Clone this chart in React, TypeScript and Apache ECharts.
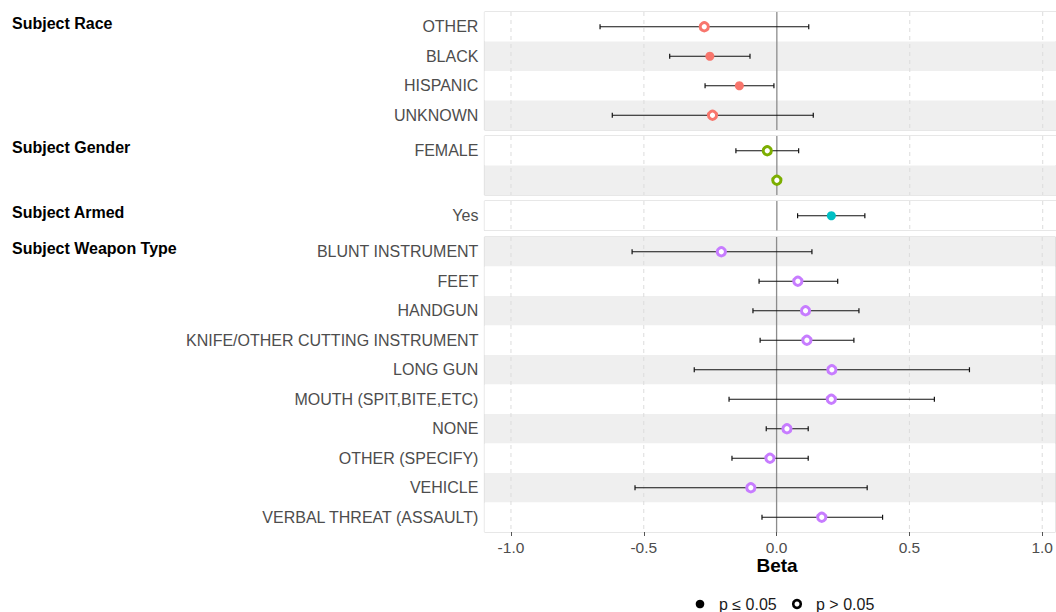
import React, { useEffect, useRef } from "react";
import * as echarts from "echarts";

const FONT = '"Liberation Sans", Arial, Helvetica, sans-serif';

// ---- data ----
const raceLabels = ["OTHER", "BLACK", "HISPANIC", "UNKNOWN"];
const raceBeta = [-0.273, -0.252, -0.141, -0.242];
const raceLow = [-0.665, -0.403, -0.27, -0.619];
const raceHigh = [0.12, -0.101, -0.011, 0.137];
const raceSig = [false, true, true, false];

const genderLabels = ["FEMALE", ""];
const genderBeta = [-0.036, 0.0];
const genderLow: (number | null)[] = [-0.154, null];
const genderHigh: (number | null)[] = [0.082, null];
const genderSig = [false, false];

const armedLabels = ["Yes"];
const armedBeta = [0.205];
const armedLow = [0.078];
const armedHigh = [0.331];
const armedSig = [true];

const weaponLabels = [
  "BLUNT INSTRUMENT",
  "FEET",
  "HANDGUN",
  "KNIFE/OTHER CUTTING INSTRUMENT",
  "LONG GUN",
  "MOUTH (SPIT,BITE,ETC)",
  "NONE",
  "OTHER (SPECIFY)",
  "VEHICLE",
  "VERBAL THREAT (ASSAULT)",
];
const weaponBeta = [-0.208, 0.08, 0.109, 0.114, 0.208, 0.206, 0.039, -0.025, -0.097, 0.17];
const weaponLow = [-0.544, -0.066, -0.089, -0.062, -0.31, -0.179, -0.039, -0.168, -0.533, -0.055];
const weaponHigh = [0.133, 0.23, 0.31, 0.291, 0.726, 0.594, 0.119, 0.119, 0.341, 0.399];
const weaponSig = [false, false, false, false, false, false, false, false, false, false];

const xTicks = [-1, -0.5, 0, 0.5, 1];
const xMin = -1.1;
const xMax = 1.05;

const panels = [
  { title: "Subject Race", labels: raceLabels, beta: raceBeta, low: raceLow, high: raceHigh, sig: raceSig, color: "#F8766D", top: 12, height: 118, grayFirst: false },
  { title: "Subject Gender", labels: genderLabels, beta: genderBeta, low: genderLow, high: genderHigh, sig: genderSig, color: "#7CAE00", top: 136, height: 59, grayFirst: false },
  { title: "Subject Armed", labels: armedLabels, beta: armedBeta, low: armedLow, high: armedHigh, sig: armedSig, color: "#00BFC4", top: 201, height: 29.5, grayFirst: false },
  { title: "Subject Weapon Type", labels: weaponLabels, beta: weaponBeta, low: weaponLow, high: weaponHigh, sig: weaponSig, color: "#C77CFF", top: 237, height: 295, grayFirst: true },
];

const GRAY = "#EFEFEF";
const WHITE = "#FFFFFF";

export default function App() {
  const ref = useRef<HTMLDivElement>(null);
  useEffect(() => {
    if (!ref.current) return;
    const chart = echarts.init(ref.current, null, { renderer: "svg" });
    const grid: any[] = [];
    const xAxis: any[] = [];
    const yAxis: any[] = [];
    const series: any[] = [];
    const graphic: any[] = [];
    const last = panels.length - 1;

    panels.forEach((p, i) => {
      grid.push({
        left: 484.4,
        width: 571.9,
        top: p.top,
        height: p.height,
        show: true,
        borderColor: "#cfcfcf",
        borderWidth: 1,
        backgroundColor: "transparent",
      });
      xAxis.push({
        gridIndex: i,
        type: "value",
        min: xMin,
        max: xMax,
        axisLine: { show: false },
        splitLine: { show: false },
        axisTick: {
          show: i === last,
          customValues: xTicks,
          length: 4,
          lineStyle: { color: "#555", width: 1 },
        },
        axisLabel: {
          show: i === last,
          customValues: xTicks,
          formatter: (v: number) => v.toFixed(1),
          fontSize: 15.5,
          color: "#4d4d4d",
          fontFamily: FONT,
          margin: 7,
        },
      });
      yAxis.push({
        gridIndex: i,
        type: "category",
        data: p.labels,
        inverse: true,
        axisLine: { show: false },
        axisTick: { show: false },
        splitLine: { show: false },
        axisLabel: { fontSize: 16, color: "#4d4d4d", fontFamily: FONT, margin: 6 },
        splitArea: {
          show: true,
          areaStyle: { color: p.grayFirst ? [GRAY, WHITE] : [WHITE, GRAY] },
        },
      });
      // grid lines
      series.push({
        type: "custom",
        xAxisIndex: i,
        yAxisIndex: i,
        z: 1,
        silent: true,
        encode: { x: 0 },
        data: xTicks.map((v) => [v]),
        renderItem: (params: any, api: any) => {
          const v = api.value(0);
          const x = api.coord([v, 0])[0];
          const cs = params.coordSys;
          return {
            type: "line",
            shape: { x1: x, y1: cs.y, x2: x, y2: cs.y + cs.height },
            style:
              v === 0
                ? { stroke: "#8c8c8c", lineWidth: 1.3 }
                : { stroke: "#dcdcdc", lineWidth: 1, lineDash: [4, 4] },
          };
        },
      });
      // error bars
      const ebData: any[] = [];
      p.labels.forEach((_, j) => {
        if (p.low[j] != null && p.high[j] != null) ebData.push([p.low[j], p.high[j], j]);
      });
      series.push({
        type: "custom",
        xAxisIndex: i,
        yAxisIndex: i,
        z: 2,
        silent: true,
        encode: { x: [0, 1], y: 2 },
        data: ebData,
        renderItem: (params: any, api: any) => {
          const idx = api.value(2);
          const p1 = api.coord([api.value(0), idx]);
          const p2 = api.coord([api.value(1), idx]);
          const y = p1[1];
          const st = { stroke: "#111111", lineWidth: 1.2 };
          return {
            type: "group",
            children: [
              { type: "line", shape: { x1: p1[0], y1: y, x2: p2[0], y2: y }, style: st },
              { type: "line", shape: { x1: p1[0], y1: y - 2.5, x2: p1[0], y2: y + 2.5 }, style: st },
              { type: "line", shape: { x1: p2[0], y1: y - 2.5, x2: p2[0], y2: y + 2.5 }, style: st },
            ],
          };
        },
      });
      // points
      series.push({
        type: "scatter",
        xAxisIndex: i,
        yAxisIndex: i,
        z: 3,
        silent: true,
        symbol: "circle",
        itemStyle: { opacity: 1 },
        data: p.beta.map((b, j) => ({
          value: [b, j],
          symbolSize: p.sig[j] ? 9 : 8.2,
          itemStyle: p.sig[j]
            ? { color: p.color, borderWidth: 0, opacity: 1 }
            : { color: "#ffffff", borderColor: p.color, borderWidth: 3, opacity: 1 },
        })),
      });
      graphic.push({
        type: "text",
        left: 12,
        top: p.top + 3,
        style: {
          text: p.title,
          fontSize: 16,
          fontWeight: "bold",
          fill: "#000",
          fontFamily: FONT,
        },
      });
    });

    graphic.push({
      type: "text",
      x: 777,
      y: 565,
      style: {
        text: "Beta",
        fontSize: 19,
        fontWeight: "bold",
        fill: "#000",
        fontFamily: FONT,
        align: "center",
        verticalAlign: "middle",
      },
    });
    graphic.push({
      type: "circle",
      shape: { cx: 700, cy: 604, r: 4.3 },
      style: { fill: "#000" },
    });
    graphic.push({
      type: "text",
      x: 719,
      y: 604,
      style: { text: "p ≤ 0.05", fontSize: 16, fill: "#1a1a1a", fontFamily: FONT, verticalAlign: "middle" },
    });
    graphic.push({
      type: "circle",
      shape: { cx: 797, cy: 604, r: 3.8 },
      style: { fill: "#fff", stroke: "#000", lineWidth: 2.6 },
    });
    graphic.push({
      type: "text",
      x: 816,
      y: 604,
      style: { text: "p > 0.05", fontSize: 16, fill: "#1a1a1a", fontFamily: FONT, verticalAlign: "middle" },
    });

    chart.setOption({
      animation: false,
      backgroundColor: "#ffffff",
      textStyle: { fontFamily: FONT },
      grid,
      xAxis,
      yAxis,
      series,
      graphic,
    });
    return () => chart.dispose();
  }, []);
  return (
    <div
      ref={ref}
      style={{ position: "absolute", left: 0, top: 0, width: 1056, height: 612 }}
    />
  );
}
